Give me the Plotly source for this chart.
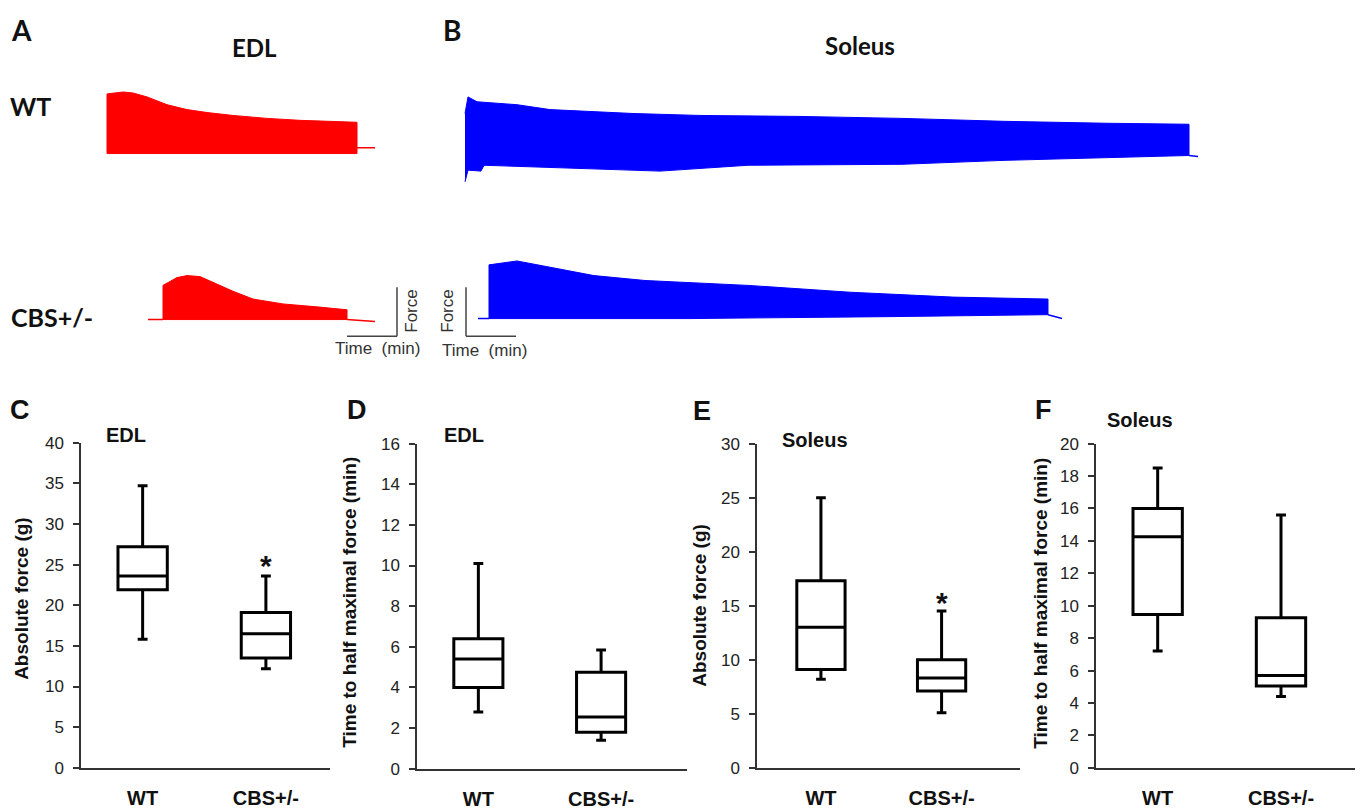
import plotly.graph_objects as go

# ---------------- DATA ----------------
GROUPS = ["WT", "CBS+/-"]

# C: EDL absolute force (g)
C_LO = [15.8, 12.2]
C_Q1 = [21.9, 13.5]
C_MED = [23.6, 16.5]
C_Q3 = [27.2, 19.1]
C_HI = [34.7, 23.6]

# D: EDL time to half maximal force (min)
D_LO = [2.8, 1.4]
D_Q1 = [4.0, 1.8]
D_MED = [5.4, 2.55]
D_Q3 = [6.4, 4.75]
D_HI = [10.1, 5.85]

# E: Soleus absolute force (g)
E_LO = [8.2, 5.1]
E_Q1 = [9.1, 7.1]
E_MED = [13.0, 8.3]
E_Q3 = [17.3, 10.0]
E_HI = [25.0, 14.5]

# F: Soleus time to half maximal force (min)
F_LO = [7.2, 4.4]
F_Q1 = [9.45, 5.05]
F_MED = [14.25, 5.7]
F_Q3 = [16.0, 9.25]
F_HI = [18.5, 15.6]

# significance markers (y values)
C_STAR = 24.9
E_STAR = 15.3

# A: EDL force traces (time in min, force in g, relative to stimulation start)
EDL_WT_T_UP = [0, 0, 1.6, 2.6, 4.0, 6.0, 8.0, 10.0, 12.6, 16.0, 19.3, 22.6, 25.0, 25.0]
EDL_WT_F_UP = [0, 24.4, 25.2, 24.8, 23.2, 20.0, 18.0, 16.8, 15.6, 14.4, 13.6, 13.2, 12.8, 0]
EDL_WT_T_LO = [0, 25.0]
EDL_WT_F_LO = [0, 0]
EDL_WT_TAIL_T = [25.0, 26.8]
EDL_WT_TAIL_F = [2.4, 2.4]

EDL_CBS_T_UP = [0, 0, 1.4, 2.4, 3.7, 5.4, 7.0, 9.0, 12.0, 15.4, 18.4, 18.4]
EDL_CBS_F_UP = [0, 14.0, 17.2, 18.0, 17.6, 14.4, 11.6, 8.4, 6.4, 5.2, 4.0, 0]
EDL_CBS_T_LO = [0, 18.4]
EDL_CBS_F_LO = [0, 0]
EDL_CBS_PRE_T = [-1.5, 0]
EDL_CBS_PRE_F = [0, 0]
EDL_CBS_TAIL_T = [18.4, 19.5, 21.2]
EDL_CBS_TAIL_F = [0, -0.4, -0.8]

# B: Soleus force traces
SOL_WT_T_UP = [0, 0.3, 1.2, 5.2, 8.5, 16.8, 23.5, 33.5, 43.7, 53.9, 64.2, 72.4]
SOL_WT_F_UP = [21.2, 28.0, 26.0, 24.8, 22.8, 21.2, 20.4, 20.0, 19.2, 18.0, 17.2, 16.8]
SOL_WT_T_LO = [0, 0.3, 1.6, 1.9, 7.8, 19.5, 28.3, 43.7, 53.9, 64.2, 72.4]
SOL_WT_F_LO = [-6.8, -2.0, -2.4, 0, -0.8, -2.4, 0, 0.4, 2.0, 3.2, 4.0]
SOL_WT_TAIL_T = [72.4, 73.3]
SOL_WT_TAIL_F = [4.0, 3.6]

SOL_CBS_T_UP = [0, 0, 2.8, 5.4, 10.5, 15.6, 25.9, 36.1, 46.4, 55.9]
SOL_CBS_F_UP = [0, 22.0, 23.6, 21.6, 17.6, 15.6, 13.6, 10.8, 8.8, 8.0]
SOL_CBS_T_LO = [0, 20, 40, 55.9]
SOL_CBS_F_LO = [0, 0, 0.8, 1.6]
SOL_CBS_PRE_T = [-1.1, 0]
SOL_CBS_PRE_F = [0, 0]
SOL_CBS_TAIL_T = [55.9, 57.3]
SOL_CBS_TAIL_F = [1.6, 0]

SCALE_TIME = 5     # min
SCALE_FORCE = 20   # g

# ---------------- LAYOUT HELPERS ----------------
W, H = 1363, 812


def pxx(x):
    return x / W


def pxy(y):
    return 1 - y / H


fig = go.Figure()
layout = dict(width=W, height=H, margin=dict(l=0, r=0, t=0, b=0),
              paper_bgcolor="white", plot_bgcolor="rgba(0,0,0,0)",
              showlegend=False)

AX_COL = "#333333"
TICK_FONT = dict(family="Liberation Sans, Arial, sans-serif", size=17, color="#222222")
XTICK_FONT = dict(family="Liberation Sans, Arial, sans-serif", size=20, color="#111111", weight="bold")

box_panels = [
    # idx, stats, xdom px, ydom px (top,bottom), yrange, dtick, xrange
    (1, (C_LO, C_Q1, C_MED, C_Q3, C_HI), (81, 330), (444, 777), (0, 40), 5, (-0.5, 1.52)),
    (2, (D_LO, D_Q1, D_MED, D_Q3, D_HI), (417, 687), (445, 778), (0, 16), 2, (-0.5, 1.7)),
    (3, (E_LO, E_Q1, E_MED, E_Q3, E_HI), (757, 1020), (445, 777), (0, 30), 5, (-0.53, 1.65)),
    (4, (F_LO, F_Q1, F_MED, F_Q3, F_HI), (1096, 1355), (445, 777), (0, 20), 2, (-0.5, 1.6)),
]

for idx, (lo, q1, med, q3, hi), xd, yd, yr, dt, xr in box_panels:
    sfx = "" if idx == 1 else str(idx)
    fig.add_trace(go.Box(
        x=GROUPS, lowerfence=lo, q1=q1, median=med, q3=q3, upperfence=hi,
        width=0.4, whiskerwidth=0.2, boxpoints=False,
        line=dict(color="black", width=3), fillcolor="white",
        xaxis="x" + sfx, yaxis="y" + sfx, hoverinfo="skip"))
    layout["xaxis" + sfx] = dict(
        domain=[pxx(xd[0]), pxx(xd[1])], range=list(xr), anchor="y" + sfx,
        type="category", showline=True, linecolor=AX_COL, linewidth=1.5,
        ticks="", showgrid=False, zeroline=False, tickfont=XTICK_FONT,
        ticklabelstandoff=11)
    layout["yaxis" + sfx] = dict(
        domain=[pxy(yd[1]), pxy(yd[0])], range=list(yr), anchor="x" + sfx,
        dtick=dt, tick0=0, showline=True, linecolor=AX_COL, linewidth=1.5,
        ticks="outside", ticklen=6, tickwidth=1.5, tickcolor=AX_COL,
        showgrid=False, zeroline=False, tickfont=TICK_FONT,
        ticklabelstandoff=6)

# ---------------- FORCE TRACES ----------------
SX, SY = 10.0, 2.5  # px per min, px per g

trace_panels = [
    # idx, px box (x0,x1,ytop,ybot), origin px, color, up, lo, extra lines
    (5, (95, 430, 55, 200), (107, 148), "#ff0000",
     (EDL_WT_T_UP, EDL_WT_F_UP), (EDL_WT_T_LO, EDL_WT_F_LO),
     [(EDL_WT_TAIL_T, EDL_WT_TAIL_F)]),
    (6, (95, 430, 230, 370), (163, 318), "#ff0000",
     (EDL_CBS_T_UP, EDL_CBS_F_UP), (EDL_CBS_T_LO, EDL_CBS_F_LO),
     [(EDL_CBS_PRE_T, EDL_CBS_PRE_F), (EDL_CBS_TAIL_T, EDL_CBS_TAIL_F)]),
    (7, (440, 1240, 55, 200), (465, 160), "#0000ff",
     (SOL_WT_T_UP, SOL_WT_F_UP), (SOL_WT_T_LO, SOL_WT_F_LO),
     [(SOL_WT_TAIL_T, SOL_WT_TAIL_F)]),
    (8, (440, 1240, 230, 370), (489, 317), "#0000ff",
     (SOL_CBS_T_UP, SOL_CBS_F_UP), (SOL_CBS_T_LO, SOL_CBS_F_LO),
     [(SOL_CBS_PRE_T, SOL_CBS_PRE_F), (SOL_CBS_TAIL_T, SOL_CBS_TAIL_F)]),
]

for idx, (x0, x1, yt, yb), (ox, oy), col, up, lo, extras in trace_panels:
    sfx = str(idx)
    xs = list(up[0]) + list(reversed(lo[0]))
    ys = list(up[1]) + list(reversed(lo[1]))
    fig.add_trace(go.Scatter(x=xs, y=ys, mode="lines", fill="toself",
                             fillcolor=col, line=dict(color=col, width=1),
                             xaxis="x" + sfx, yaxis="y" + sfx, hoverinfo="skip"))
    for tx, fy in extras:
        fig.add_trace(go.Scatter(x=tx, y=fy, mode="lines",
                                 line=dict(color=col, width=1.5),
                                 xaxis="x" + sfx, yaxis="y" + sfx, hoverinfo="skip"))
    layout["xaxis" + sfx] = dict(domain=[pxx(x0), pxx(x1)],
                                 range=[(x0 - ox) / SX, (x1 - ox) / SX],
                                 anchor="y" + sfx, visible=False)
    layout["yaxis" + sfx] = dict(domain=[pxy(yb), pxy(yt)],
                                 range=[(oy - yb) / SY, (oy - yt) / SY],
                                 anchor="x" + sfx, visible=False)

# scale bars (drawn in the CBS trace axes)
shapes = []
for sfx, tc, fc in (("6", 23.4, -6.8), ("8", -2.3, -7.2)):
    shapes.append(dict(type="line", xref="x" + sfx, yref="y" + sfx,
                       x0=tc, x1=tc, y0=fc, y1=fc + SCALE_FORCE,
                       line=dict(color="#444444", width=1.5)))
    shapes.append(dict(type="line", xref="x" + sfx, yref="y" + sfx,
                       x0=tc - SCALE_TIME if sfx == "6" else tc,
                       x1=tc if sfx == "6" else tc + SCALE_TIME,
                       y0=fc, y1=fc, line=dict(color="#444444", width=1.5)))
layout["shapes"] = shapes

# ---------------- TEXT ----------------
anns = []


def ann(text, x, y, size, family="Liberation Sans, Arial, sans-serif",
        bold=True, angle=0, color="#111111", xanchor="center"):
    anns.append(dict(text=text, x=pxx(x), y=pxy(y), xref="paper", yref="paper",
                     showarrow=False, textangle=angle, xanchor=xanchor, yanchor="middle",
                     font=dict(family=family, size=size, color=color,
                               weight="bold" if bold else "normal")))


TOPF = "Lato, Open Sans, sans-serif"
ann("A", 21, 22, 28, TOPF)
ann("B", 452, 21, 28, TOPF)
ann("EDL", 254, 39, 24, TOPF)
ann("Soleus", 860, 37, 24, TOPF)
ann("WT", 30, 99, 25, TOPF)
ann("CBS+/-", 52, 315, 25, TOPF)

NARROW = "Liberation Sans Narrow, Arial Narrow, Liberation Sans, sans-serif"
ann("Force", 412, 310, 17, NARROW, bold=False, angle=-90, color="#333333")
ann("Time  (min)", 377, 348, 17, NARROW, bold=False, color="#333333")
ann("Force", 448, 310, 17, NARROW, bold=False, angle=-90, color="#333333")
ann("Time  (min)", 484, 350, 17, NARROW, bold=False, color="#333333")

ann("C", 20, 411, 27)
ann("D", 357, 411, 27)
ann("E", 702, 412, 27)
ann("F", 1043, 411, 27)
ann("EDL", 126, 436, 20)
ann("EDL", 464, 436, 20)
ann("Soleus", 815, 441, 20)
ann("Soleus", 1140, 421, 20)

ann("Absolute force (g)", 22, 604, 19, angle=-90)
ann("Time to half maximal force (min)", 350, 608, 19, angle=-90)
ann("Absolute force (g)", 700, 611, 19, angle=-90)
ann("Time to half maximal force (min)", 1041, 609, 19, angle=-90)

for xr_, yr_, val in (("x", "y", C_STAR), ("x3", "y3", E_STAR)):
    anns.append(dict(text="*", x="CBS+/-", y=val, xref=xr_, yref=yr_, showarrow=False,
                     yanchor="middle",
                     font=dict(family="Liberation Sans, Arial, sans-serif", size=30,
                               color="#111111", weight="bold")))

layout["annotations"] = anns
fig.update_layout(**layout)
fig.write_html("out.html",
               config={"displayModeBar": False},
               post_script="document.body.style.margin='0';"
                           "document.body.style.overflow='hidden';")
